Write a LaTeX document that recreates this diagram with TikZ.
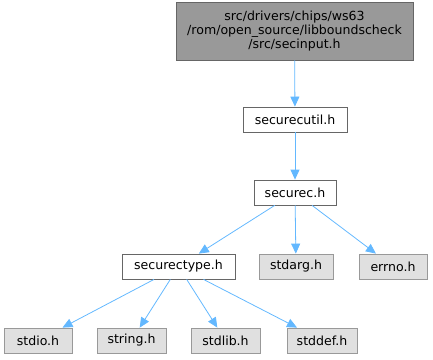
\documentclass[tikz,border=0pt]{standalone}
\usepackage{fontspec}
\setmainfont{DejaVu Sans}
\usetikzlibrary{arrows.meta}
\definecolor{edgeblue}{HTML}{63B8FF}
\definecolor{boxline}{HTML}{666666}
\definecolor{sysline}{HTML}{999999}
\definecolor{sysfill}{HTML}{E0E0E0}
\definecolor{topfill}{HTML}{999999}

\begin{document}
\begin{tikzpicture}[
  x=1bp, y=-1bp,
  font=\fontsize{12.6}{14.5}\selectfont,
  hdr/.style={draw=boxline, fill=white, minimum height=25bp, inner xsep=6bp,
              inner ysep=0pt, line width=.8pt},
  sys/.style={draw=sysline, fill=sysfill, minimum height=25bp, inner xsep=6bp,
              inner ysep=0pt, line width=.8pt},
  dep/.style={draw=edgeblue, line width=.8pt,
              -{Triangle[length=10bp, width=9bp]}},
]
\useasboundingbox (0,0) rectangle (433,359);
\node[draw=boxline, fill=topfill, align=center, minimum width=237bp,
      minimum height=58bp, inner sep=0pt, line width=.8pt] (secinput) at (294.5,31)
  {src/drivers/chips/ws63\\/rom/open\_source/libboundscheck\\/src/secinput.h};
\node[hdr, minimum width=104bp] (securecutil) at (295,119.5) {securecutil.h};
\node[hdr, minimum width=82bp] (securec) at (295,192.5) {securec.h};
\node[hdr, minimum width=113bp] (securectype) at (178.5,266.5) {securectype.h};
\node[sys, minimum width=74bp] (stdarg) at (296,266.5) {stdarg.h};
\node[sys, minimum width=68bp] (errno) at (393,266.5) {errno.h};
\node[sys, minimum width=68bp] (stdio) at (38,340.5) {stdio.h};
\node[sys, minimum width=69bp] (string) at (131.5,340.5) {string.h};
\node[sys, minimum width=69bp] (stdlib) at (225.5,340.5) {stdlib.h};
\node[sys, minimum width=70bp] (stddef) at (322,340.5) {stddef.h};

\draw[dep] (secinput) -- (securecutil);
\draw[dep] (securecutil) -- (securec);
\draw[dep] (securec) -- (securectype);
\draw[dep] (securec) -- (stdarg);
\draw[dep] (securec) -- (errno);
\draw[dep] (securectype) -- (stdio);
\draw[dep] (securectype) -- (string);
\draw[dep] (securectype) -- (stdlib);
\draw[dep] (securectype) -- (stddef);
\end{tikzpicture}
\end{document}
